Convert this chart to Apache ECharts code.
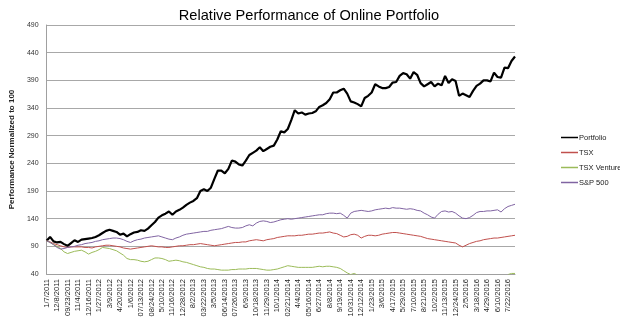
<!DOCTYPE html>
<html><head><meta charset="utf-8">
<script src="https://cdn.jsdelivr.net/npm/echarts@6/dist/echarts.min.js"></script>
<style>html,body{margin:0;padding:0;background:#fff}#c{width:620px;height:321px}</style>
</head><body><div id="c"></div>
<script>
const tickLabels = ["1/7/2011","12/8/2011","09/23/2011","11/4/2011","12/16/2011","1/27/2012","3/9/2012","4/20/2012","1/6/2012","07/13/2012","08/24/2012","5/10/2012","11/16/2012","12/28/2012","8/2/2013","03/22/2013","3/5/2013","06/14/2013","07/26/2013","6/9/2013","10/18/2013","11/29/2013","10/1/2014","02/21/2014","4/4/2014","05/16/2014","6/27/2014","8/8/2014","9/19/2014","10/31/2014","12/12/2014","1/23/2015","3/6/2015","4/17/2015","5/29/2015","7/10/2015","8/21/2015","10/2/2015","11/13/2015","12/24/2015","2/5/2016","3/18/2016","4/29/2016","6/10/2016","7/22/2016"];

const portfolio = [100,107,99,97,98,94,91,96,101,98,102,103,104,105,107,110,114,118,120,118,116,111,113,108,112,115,116,119,118,122,128,134,142,146,149,153,147,153,156,160,165,169,172,177,190,193,190,196,212,227,227,222,230,245,243,238,236,245,255,259,263,269,262,266,270,272,283,298,296,302,318,336,330,332,328,330,331,334,342,345,349,356,368,368,372,375,366,352,350,347,343,358,362,368,383,379,376,376,378,386,387,398,403,401,393,405,400,385,379,383,387,379,384,381,398,385,392,389,362,366,363,360,371,380,384,390,390,388,404,396,395,413,412,425,433];

const tsx = [100,98,95,93,91,89,88,89,89,89,89,88,88,87,89,90,91,92,92,91,90,89,87,86,85,86,87,88,89,90,91,90,89,89,88,88,89,90,91,91,92,93,93,94,95,94,93,92,91,92,93,94,95,96,97,97,98,98,100,101,102,101,100,102,103,104,106,107,108,109,109,109,110,110,111,112,112,113,114,114,115,116,114,113,110,107,108,111,112,110,105,108,110,110,109,110,112,113,114,115,115,114,113,112,111,110,109,108,106,104,103,102,101,100,99,98,97,96,92,89,92,95,97,99,100,102,103,104,105,105,106,107,108,109,110];

const tsxVenture = [100,97,93,90,86,80,77,79,81,82,83,80,76,79,81,84,88,87,86,84,82,78,74,68,66,66,65,63,62,63,66,69,69,68,66,63,64,65,64,62,61,59,57,55,53,52,50,49,49,48,47,47,47,48,48,49,49,49,50,50,50,49,48,47,47,48,49,51,53,55,54,53,52,52,52,52,52,53,54,53,54,54,53,52,50,46,42,39,41,38,null,null,null,null,null,null,null,null,null,null,null,null,null,null,null,null,null,null,null,null,null,null,null,null,null,null,null,null,null,null,null,null,null,null,null,null,null,null,null,null,null,null,39,41,41];

const sp500 = [100,97,93,88,85,86,88,89,90,92,93,95,96,97,99,100,102,103,104,105,105,104,102,99,97,100,102,103,105,106,107,108,109,107,105,103,102,105,107,110,112,113,114,115,116,117,117,119,120,121,122,124,126,124,123,123,124,127,129,127,132,135,136,135,133,134,136,138,139,140,139,140,141,142,143,144,145,146,147,147,149,150,150,149,150,146,141,150,153,154,155,154,153,154,156,157,158,159,158,160,159,159,158,157,158,157,155,154,150,147,143,141,148,153,154,152,153,150,145,141,140,142,146,151,153,153,154,154,155,156,152,158,162,164,166];

const seriesNames = ["Portfolio","TSX","TSX Venture","S&P 500"];
const yTicks = {min:40, max:490, step:50};

const categories = portfolio.map((_, i) => String(i));

const chart = echarts.init(document.getElementById('c'), null, {renderer:'canvas'});
const mk = (name, data, color, width) => ({
  name, type:'line', data, symbol:'none', showSymbol:false, clip:true,
  lineStyle:{color, width}, itemStyle:{color}, connectNulls:false, animation:false
});
chart.setOption({
  animation:false,
  title:{text:'Relative Performance of Online Portfolio', left:304, top:3, textAlign:'center',
    textStyle:{fontFamily:'Liberation Sans', fontSize:14.6, fontWeight:'normal', color:'#000'}},
  grid:{left:40, right:105, top:25, bottom:47},
  legend:{orient:'vertical', left:556, top:128, itemWidth:17, itemHeight:1.5, itemGap:6, icon:'rect',
    textStyle:{fontFamily:'Liberation Sans', fontSize:7.5, color:'#222', padding:[0,0,0,-4], lineHeight:9},
    data:[
      {name:seriesNames[0], itemStyle:{color:'#000'}},
      {name:seriesNames[1], itemStyle:{color:'#c0504d'}},
      {name:seriesNames[2], itemStyle:{color:'#9bbb59'}},
      {name:seriesNames[3], itemStyle:{color:'#8064a2'}}
    ]},
  xAxis:{type:'category', data:categories, boundaryGap:false,
    axisLine:{lineStyle:{color:'#a0a0a0'}}, axisTick:{show:false},
    axisLabel:{interval:2, rotate:90, margin:5, fontFamily:'Liberation Sans', fontSize:7.5, color:'#222',
      formatter:(v)=>{const i=Number(v); return i%3===0 && tickLabels[i/3] ? tickLabels[i/3] : '';}},
    splitLine:{show:false}},
  yAxis:{type:'value', min:yTicks.min, max:yTicks.max, interval:yTicks.step,
    name:'Performance Normalized to 100', nameLocation:'middle', nameGap:26, nameRotate:90,
    nameTextStyle:{fontFamily:'Liberation Sans', fontSize:8, fontWeight:'bold', color:'#222'},
    axisLine:{show:true, lineStyle:{color:'#a0a0a0'}}, axisTick:{show:false},
    axisLabel:{fontFamily:'Liberation Sans', fontSize:7, color:'#333', margin:8},
    splitLine:{lineStyle:{color:'#a8a8a8', width:1}}},
  series:[
    mk(seriesNames[0], portfolio, '#000000', 2.2),
    mk(seriesNames[1], tsx, '#c0504d', 1),
    mk(seriesNames[2], tsxVenture, '#9bbb59', 1),
    mk(seriesNames[3], sp500, '#8064a2', 1)
  ]
});
</script></body></html>
